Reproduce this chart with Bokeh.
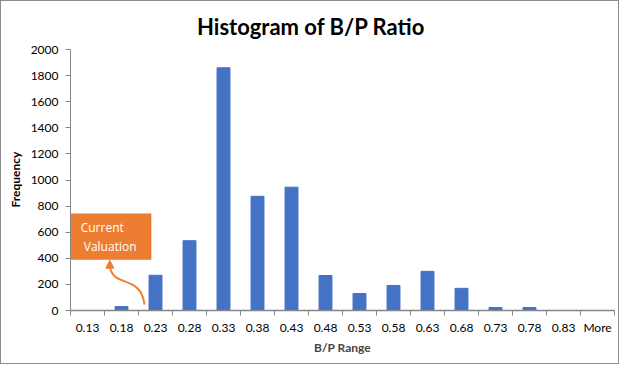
from bokeh.plotting import figure
from bokeh.models import (Range1d, FixedTicker, CustomJSTickFormatter, ColumnDataSource,
                          Arrow, NormalHead, BoxAnnotation, Label, Title)
from bokeh.embed import file_html
from bokeh.resources import INLINE
from bokeh.core.properties import value

# ---- data ----
bins = ["0.13", "0.18", "0.23", "0.28", "0.33", "0.38", "0.43", "0.48",
        "0.53", "0.58", "0.63", "0.68", "0.73", "0.78", "0.83", "More"]
freq = [0, 30, 270, 535, 1860, 875, 945, 268, 130, 192, 300, 170, 23, 23, 0, 0]
y_ticks = list(range(0, 2001, 200))
title = "Histogram of B/P Ratio"

n = len(bins)
xc = [i + 0.5 for i in range(n)]
src = ColumnDataSource(dict(x=xc, top=freq, label=bins))

FONT = "Lato"
AXIS_GRAY = "#868686"
BLUE = "#4472C4"
ORANGE = "#ED7D31"

# plot frame spans to the top of the figure so that the title can sit inside it;
# the value axis itself is bounded to 0..2000
Y_TOP = 2368
p = figure(width=619, height=364, x_range=Range1d(0, n), y_range=Range1d(0, Y_TOP),
           output_backend="svg", toolbar_location=None, tools="",
           min_border_left=69, min_border_right=6, min_border_top=0, min_border_bottom=55)
p.styles = {"border": "1px solid #8c8c8c"}

p.outline_line_color = None
p.xgrid.grid_line_color = None
p.ygrid.grid_line_color = None

p.add_layout(Label(x=7.08, y=2174, text=title,
                   text_font=FONT, text_font_size="22px", text_font_style="bold",
                   text_color="black", text_align="center", text_baseline="alphabetic"))

p.vbar(x="x", top="top", width=0.38, source=src, color=BLUE)

# x axis: labels at centres, ticks at boundaries (minor ticks)
xa = p.xaxis[0]
xa.ticker = FixedTicker(ticks=xc, minor_ticks=list(range(n + 1)))
xa.formatter = CustomJSTickFormatter(args=dict(labels=bins),
                                     code="return labels[Math.floor(tick)] ?? '';")
xa.major_tick_out = 0
xa.major_tick_in = 0
xa.minor_tick_out = 5
xa.minor_tick_in = 0
xa.minor_tick_line_color = AXIS_GRAY
xa.axis_line_color = AXIS_GRAY
xa.axis_line_width = 1.5
xa.major_label_standoff = 4
xa.major_label_text_font = FONT
xa.major_label_text_font_size = "12px"
xa.major_label_text_color = "black"
xa.axis_label = "B/P Range"
xa.axis_label_text_font = FONT
xa.axis_label_text_font_size = "12px"
xa.axis_label_text_font_style = "bold"
xa.axis_label_standoff = 2

ya = p.yaxis[0]
ya.bounds = (0, 2000)
ya.ticker = FixedTicker(ticks=y_ticks, minor_ticks=[])
ya.major_tick_out = 5
ya.major_tick_in = 0
ya.major_tick_line_color = AXIS_GRAY
ya.axis_line_color = AXIS_GRAY
ya.major_label_standoff = 7
ya.major_label_text_font = FONT
ya.major_label_text_font_size = "12px"
ya.major_label_text_color = "black"

# value-axis title, centred on the 0..2000 span of the axis
p.add_layout(Title(text="Frequency", align="left", offset=103, standoff=9,
                   text_font=FONT, text_font_size="12px", text_font_style="bold",
                   text_color="black"), "left")

# ---- callout annotation ----
box = BoxAnnotation(left=0.0, right=2.37, bottom=391, top=741, level="underlay",
                    fill_color=ORANGE, fill_alpha=1.0, line_color="#AE5A21", line_width=1)
p.add_layout(box)
p.text(x=[0.3], y=[635], text=["Current"], text_font=value("Open Sans"),
       text_font_size="12px", text_color="white", text_baseline="middle")
p.text(x=[0.39], y=[492], text=["Valuation"], text_font=value("Open Sans"),
       text_font_size="12px", text_color="white", text_baseline="middle")

p.bezier(x0=[2.176], y0=[46], x1=[1.156], y1=[345],
         cx0=[2.07], cy0=[283], cx1=[1.215], cy1=[169],
         line_color=ORANGE, line_width=2)
p.add_layout(Arrow(end=NormalHead(size=8, fill_color=ORANGE, line_color=ORANGE),
                   x_start=1.156, y_start=340, x_end=1.156, y_end=385,
                   line_color=ORANGE, line_width=2))

open("out.html", "w").write(file_html(p, INLINE))
